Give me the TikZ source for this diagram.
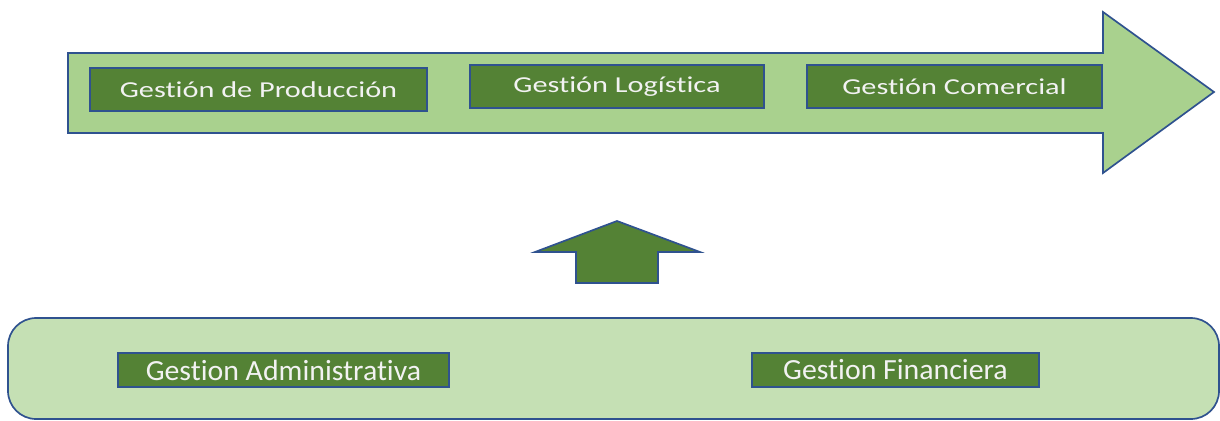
\documentclass[tikz,border=0pt]{standalone}
\usepackage{fontspec}
\setmainfont[RawFeature=-liga]{Carlito}
\usepackage{tikz}
\usetikzlibrary{positioning,backgrounds}
\definecolor{offGreen}{HTML}{A9D18E}
\definecolor{offPale}{HTML}{C5E0B4}
\definecolor{offDark}{HTML}{548235}
\definecolor{offBlue}{HTML}{2F528F}

\begin{document}
\begin{tikzpicture}[x=0.025cm, y=-0.025cm,
  area/.style={draw=offBlue, line width=1.2pt},
  gbox/.style={draw=offBlue, fill=offDark, line width=1.8pt, text=white!95!black,
    inner sep=0pt, minimum height=1.075cm},
  lbox/.style={gbox, minimum height=0.85cm, line width=1.5pt},
  toptxt/.style={font=\fontsize{16.2}{18}\selectfont\addfontfeature{FakeStretch=1.33}},
  bottxt/.style={font=\fontsize{20.8}{24}\selectfont\addfontfeature{FakeStretch=1.02}}
]
\useasboundingbox (0,0) rectangle (1220,420);
% flow arrow
\draw[area, fill=offGreen] (68,53) -- (1103,53) -- (1103,12) -- (1214,92)
  -- (1103,173) -- (1103,133) -- (68,133) -- cycle;
\node[gbox,toptxt,minimum width=8.425cm] (prod) at (258.5,89.5) {Gestión de Producción};
\node[gbox,toptxt,minimum width=7.35cm] (logi) at (617,86.5) {Gestión Logística};
\node[gbox,toptxt,minimum width=7.375cm] (comer) at (954.5,86.5) {Gestión Comercial};
% support base
\draw[area, fill=offPale, rounded corners=20] (8,318) rectangle (1219,419);
\node[lbox,bottxt,minimum width=8.275cm] (admin) at (283.5,370) {Gestion Administrativa};
\node[lbox,bottxt,minimum width=7.175cm] (fin) at (895.5,370) {Gestion Financiera};
% upward arrow
\draw[area, fill=offDark] (576,283) -- (576,252) -- (535,252) -- (617,221)
  -- (700,252) -- (658,252) -- (658,283) -- cycle;
\end{tikzpicture}
\end{document}
